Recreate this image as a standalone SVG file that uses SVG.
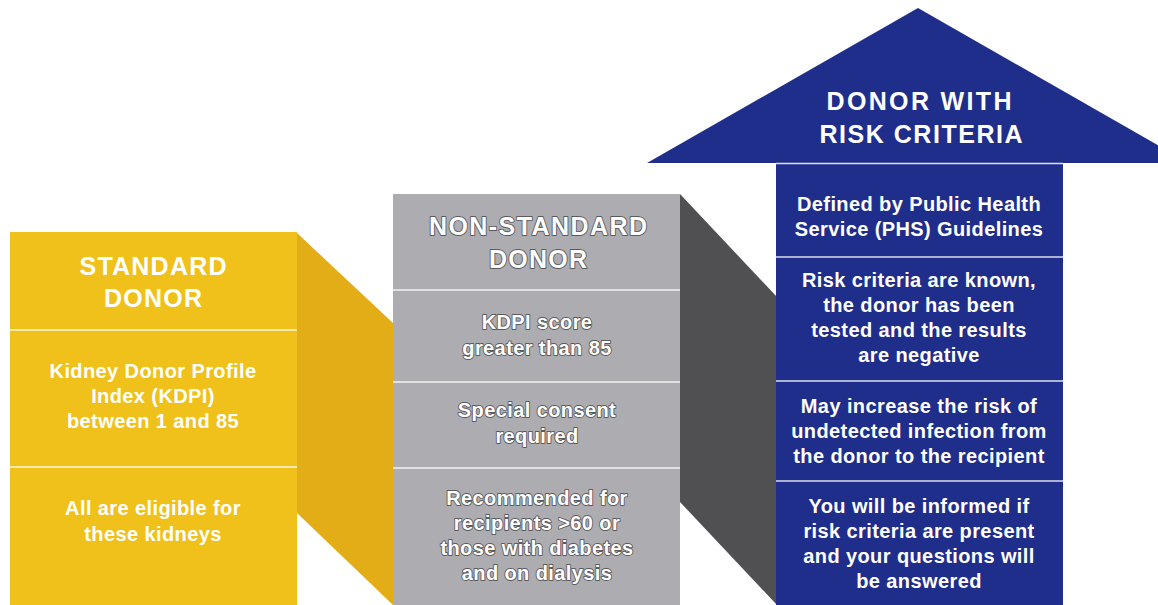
<svg xmlns="http://www.w3.org/2000/svg" width="1158" height="605" viewBox="0 0 1158 605">
<style>
  text { font-family: "Liberation Sans", Arial, sans-serif; fill: #ffffff; text-anchor: middle; font-weight: bold; }
  .title { font-size: 25px; }
  .body { font-size: 20px; letter-spacing: 0.4px; }
  .emb { stroke: #5a5a5e; stroke-width: 1.8px; paint-order: stroke; stroke-linejoin: round; }
  .div { stroke: #ffffff; stroke-width: 1.5; stroke-opacity: 0.85; }
</style>
<rect width="1158" height="605" fill="#ffffff"/>

<g id="connectors">
  <polygon id="side-yellow" points="297,233 393,323 393,605 297,513" fill="#E2AD17"/>
  <polygon id="side-gray" points="680,194 777,297 777,605 680,502" fill="#505052"/>
</g>

<g id="standard-donor">
  <rect x="10" y="232" width="287" height="373" fill="#EFC11A"/>
  <line class="div" x1="10" y1="330" x2="297" y2="330"/>
  <line class="div" x1="10" y1="467" x2="297" y2="467"/>
  <text class="title" x="153" y="275" textLength="147" lengthAdjust="spacing">STANDARD</text>
  <text class="title" x="153" y="307" textLength="98" lengthAdjust="spacing">DONOR</text>
  <text class="body" x="153" y="378">Kidney Donor Profile</text>
  <text class="body" x="153" y="403">Index (KDPI)</text>
  <text class="body" x="153" y="428">between 1 and 85</text>
  <text class="body" x="153" y="515">All are eligible for</text>
  <text class="body" x="153" y="541">these kidneys</text>
</g>

<g id="non-standard-donor">
  <rect x="393" y="194" width="287" height="411" fill="#ADACB0"/>
  <line class="div" x1="393" y1="290" x2="680" y2="290"/>
  <line class="div" x1="393" y1="382" x2="680" y2="382"/>
  <line class="div" x1="393" y1="468" x2="680" y2="468"/>
  <text class="title emb" x="538" y="235" textLength="218" lengthAdjust="spacing">NON-STANDARD</text>
  <text class="title emb" x="538" y="268" textLength="98" lengthAdjust="spacing">DONOR</text>
  <text class="body emb" x="537" y="329">KDPI score</text>
  <text class="body emb" x="537" y="355">greater than 85</text>
  <text class="body emb" x="537" y="417">Special consent</text>
  <text class="body emb" x="537" y="443">required</text>
  <text class="body emb" x="537" y="505">Recommended for</text>
  <text class="body emb" x="537" y="530">recipients &gt;60 or</text>
  <text class="body emb" x="537" y="555">those with diabetes</text>
  <text class="body emb" x="537" y="580">and on dialysis</text>
</g>

<g id="donor-risk-criteria">
  <polygon points="918,8 1189,163 647,163" fill="#1F2E8A"/>
  <rect x="776" y="163" width="287" height="442" fill="#1F2E8A"/>
  <line class="div" x1="776" y1="163.5" x2="1063" y2="163.5" stroke-opacity="0.4"/>
  <line class="div" x1="776" y1="257" x2="1063" y2="257"/>
  <line class="div" x1="776" y1="381" x2="1063" y2="381"/>
  <line class="div" x1="776" y1="481" x2="1063" y2="481"/>
  <text class="title" x="919" y="110" textLength="185" lengthAdjust="spacing">DONOR WITH</text>
  <text class="title" x="921" y="143" textLength="203" lengthAdjust="spacing">RISK CRITERIA</text>
  <text class="body" x="919" y="211">Defined by Public Health</text>
  <text class="body" x="919" y="236">Service (PHS) Guidelines</text>
  <text class="body" x="919" y="287">Risk criteria are known,</text>
  <text class="body" x="919" y="312">the donor has been</text>
  <text class="body" x="919" y="337">tested and the results</text>
  <text class="body" x="919" y="362">are negative</text>
  <text class="body" x="919" y="413">May increase the risk of</text>
  <text class="body" x="919" y="438">undetected infection from</text>
  <text class="body" x="919" y="463">the donor to the recipient</text>
  <text class="body" x="919" y="513">You will be informed if</text>
  <text class="body" x="919" y="538">risk criteria are present</text>
  <text class="body" x="919" y="563">and your questions will</text>
  <text class="body" x="919" y="588">be answered</text>
</g>
</svg>
